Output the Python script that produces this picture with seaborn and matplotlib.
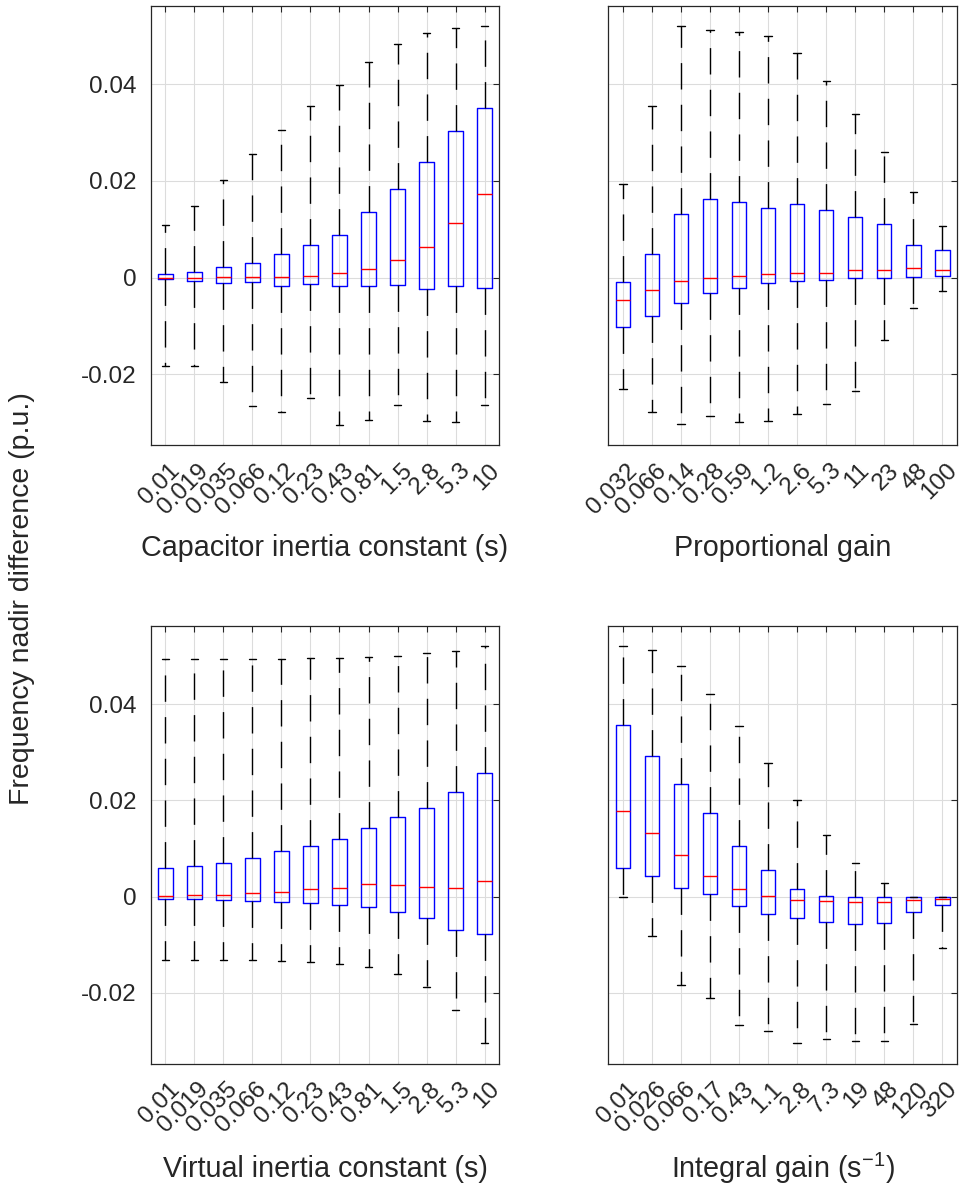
import matplotlib
matplotlib.use("Agg")
import matplotlib.pyplot as plt
import matplotlib.transforms as mtransforms
import seaborn as sns

# --- data: whisker low, q1, median, q3, whisker high ---
cap_labels = ["0.01", "0.019", "0.035", "0.066", "0.12", "0.23", "0.43", "0.81", "1.5", "2.8", "5.3", "10"]
cap_lo = [-0.0184, -0.0183, -0.0217, -0.0266, -0.0279, -0.0250, -0.0305, -0.0295, -0.0263, -0.0298, -0.0299, -0.0263]
cap_q1 = [-0.0004, -0.0007, -0.0011, -0.0010, -0.0017, -0.0013, -0.0017, -0.0017, -0.0015, -0.0023, -0.0017, -0.0021]
cap_med = [-0.0001, 0.0, 0.0001, 0.0001, 0.0002, 0.0003, 0.0009, 0.0018, 0.0037, 0.0064, 0.0112, 0.0174]
cap_q3 = [0.0007, 0.0012, 0.0022, 0.0031, 0.0048, 0.0068, 0.0088, 0.0135, 0.0183, 0.0239, 0.0304, 0.0351]
cap_hi = [0.0108, 0.0149, 0.0202, 0.0255, 0.0306, 0.0356, 0.0399, 0.0446, 0.0483, 0.0507, 0.0516, 0.0521]

kp_labels = ["0.032", "0.066", "0.14", "0.28", "0.59", "1.2", "2.6", "5.3", "11", "23", "48", "100"]
kp_lo = [-0.0230, -0.0279, -0.0304, -0.0286, -0.0299, -0.0298, -0.0283, -0.0261, -0.0236, -0.0129, -0.0064, -0.0027]
kp_q1 = [-0.0102, -0.0080, -0.0053, -0.0032, -0.0022, -0.0012, -0.0008, -0.0005, -0.0001, 0.0, 0.0001, 0.0003]
kp_med = [-0.0047, -0.0026, -0.0007, -0.0001, 0.0003, 0.0008, 0.0010, 0.0009, 0.0015, 0.0016, 0.0019, 0.0016]
kp_q3 = [-0.0010, 0.0049, 0.0132, 0.0163, 0.0157, 0.0144, 0.0153, 0.0140, 0.0126, 0.0110, 0.0068, 0.0057]
kp_hi = [0.0193, 0.0356, 0.0521, 0.0512, 0.0508, 0.0500, 0.0466, 0.0408, 0.0338, 0.0260, 0.0177, 0.0106]

vi_labels = cap_labels
vi_lo = [-0.0132, -0.0132, -0.0132, -0.0132, -0.0133, -0.0135, -0.0139, -0.0147, -0.0160, -0.0187, -0.0236, -0.0305]
vi_q1 = [-0.0004, -0.0005, -0.0006, -0.0008, -0.0010, -0.0013, -0.0017, -0.0022, -0.0032, -0.0044, -0.0069, -0.0078]
vi_med = [0.0002, 0.0004, 0.0004, 0.0007, 0.0010, 0.0015, 0.0019, 0.0027, 0.0024, 0.0021, 0.0019, 0.0033]
vi_q3 = [0.0060, 0.0064, 0.0069, 0.0081, 0.0094, 0.0105, 0.0120, 0.0143, 0.0166, 0.0185, 0.0218, 0.0256]
vi_hi = [0.0493, 0.0493, 0.0493, 0.0493, 0.0494, 0.0495, 0.0496, 0.0498, 0.0501, 0.0506, 0.0511, 0.0521]

ki_labels = ["0.01", "0.026", "0.066", "0.17", "0.43", "1.1", "2.8", "7.3", "19", "48", "120", "320"]
ki_lo = [0.0, -0.0082, -0.0184, -0.0210, -0.0267, -0.0279, -0.0305, -0.0295, -0.0299, -0.0300, -0.0264, -0.0107]
ki_q1 = [0.0060, 0.0042, 0.0019, 0.0005, -0.0019, -0.0035, -0.0044, -0.0052, -0.0056, -0.0055, -0.0031, -0.0017]
ki_med = [0.0177, 0.0132, 0.0086, 0.0044, 0.0016, 0.0001, -0.0006, -0.0008, -0.0012, -0.0010, -0.0007, -0.0005]
ki_q3 = [0.0356, 0.0292, 0.0235, 0.0174, 0.0105, 0.0055, 0.0017, 0.0002, -0.0001, -0.0001, -0.0001, -0.0001]
ki_hi = [0.0521, 0.0512, 0.0480, 0.0422, 0.0355, 0.0277, 0.0200, 0.0128, 0.0069, 0.0028, 0.0, 0.0]

y_ticks = [-0.02, 0, 0.02, 0.04]
y_ticklabels = ["-0.02", "0", "0.02", "0.04"]

sns.set_theme(style="whitegrid")
plt.rcParams["font.family"] = ["Liberation Sans", "DejaVu Sans"]
plt.rcParams["mathtext.fontset"] = "custom"
plt.rcParams["mathtext.rm"] = "Liberation Sans"
plt.rcParams["mathtext.it"] = "Liberation Sans"
plt.rcParams["axes.unicode_minus"] = False

dark = "#262626"
fig = plt.figure(figsize=(9.6, 11.98), dpi=100)

panels = [
    ([0.157, 0.6285, 0.363, 0.3667], cap_labels, cap_lo, cap_q1, cap_med, cap_q3, cap_hi,
     "Capacitor inertia constant (s)", 0.5425, True),
    ([0.6337, 0.6285, 0.363, 0.3667], kp_labels, kp_lo, kp_q1, kp_med, kp_q3, kp_hi,
     "Proportional gain", 0.5425, False),
    ([0.157, 0.1121, 0.363, 0.3656], vi_labels, vi_lo, vi_q1, vi_med, vi_q3, vi_hi,
     "Virtual inertia constant (s)", 0.0245, True),
    ([0.6337, 0.1121, 0.363, 0.3656], ki_labels, ki_lo, ki_q1, ki_med, ki_q3, ki_hi,
     "Integral gain (s$^{-1}$)", 0.0245, False),
]

for rect, labels, lo, q1, med, q3, hi, xlabel, ylab_y, show_y in panels:
    ax = fig.add_axes(rect)
    stats = [
        dict(whislo=lo[i], q1=q1[i], med=med[i], q3=q3[i], whishi=hi[i], fliers=[])
        for i in range(len(labels))
    ]
    ax.bxp(
        stats,
        positions=range(1, len(labels) + 1),
        widths=0.5,
        capwidths=0.25,
        showfliers=False,
        boxprops=dict(color="blue", linewidth=1.0),
        medianprops=dict(color="red", linewidth=1.0),
        whiskerprops=dict(color="black", linewidth=1.0, linestyle=(0, (19, 11))),
        capprops=dict(color="black", linewidth=1.0),
    )
    ax.set_xlim(0.5, 12.5)
    ax.set_ylim(-0.0347, 0.0563)
    ax.set_yticks(y_ticks)
    if show_y:
        ax.set_yticklabels(y_ticklabels)
    else:
        ax.set_yticklabels([])
    ax.tick_params(axis="both", direction="in", top=True, right=True, length=4,
                   width=0.8, color=dark, labelsize=17.5, labelcolor=dark, pad=6)
    ax.tick_params(axis="y", pad=10.5)
    ax.grid(True, color="#dcdcdc", linewidth=0.8)
    ax.set_axisbelow(True)
    for sp in ax.spines.values():
        sp.set_color(dark)
        sp.set_linewidth(0.9)
    ax.set_facecolor("white")

    ax.set_xticks(range(1, len(labels) + 1))
    ax.set_xticklabels(labels, rotation=45, ha="right", va="center",
                       rotation_mode="anchor")
    # shift rotated labels so their ends sit just right of / below the tick
    offset = mtransforms.ScaledTranslation(11 / 100, -14 / 100, fig.dpi_scale_trans)
    for lab in ax.get_xticklabels():
        lab.set_transform(lab.get_transform() + offset)

    fig.text(rect[0] + rect[2] / 2, ylab_y, xlabel, ha="center", va="center",
             fontsize=20.7, color=dark)

fig.text(0.023, 0.5, "Frequency nadir difference (p.u.)", rotation=90,
         ha="center", va="center", fontsize=20.5, color=dark)

fig.savefig("out.png", dpi=100, facecolor="white")
